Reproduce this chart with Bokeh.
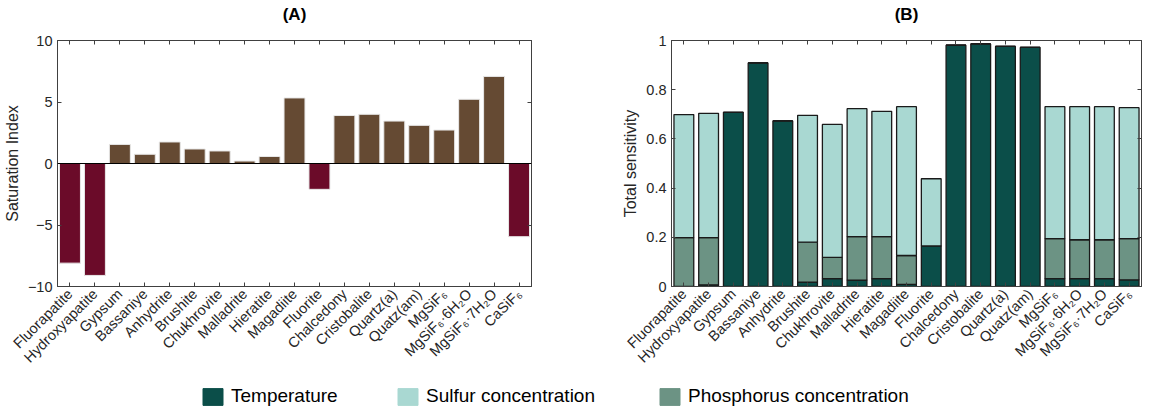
from math import pi
from bokeh.plotting import figure
from bokeh.models import (Range1d, LinearAxis, CategoricalAxis, Span, Legend, LegendItem,
                          CustomJSTickFormatter, FixedTicker, ColumnDataSource, CustomLabelingPolicy)
from bokeh.layouts import row, column
from bokeh.embed import file_html
from bokeh.resources import INLINE

# ---------------- data ----------------
minerals = ["Fluorapatite", "Hydroxyapatite", "Gypsum", "Bassaniye", "Anhydrite", "Brushite",
            "Chukhrovite", "Malladrite", "Hieratite", "Magadiite", "Fluorite", "Chalcedony",
            "Cristobalite", "Quartz(a)", "Quatz(am)", "MgSiF₆", "MgSiF₆·6H₂O", "MgSiF₆·7H₂O", "CaSiF₆"]
saturation_index = [-8.1, -9.1, 1.55, 0.75, 1.75, 1.18, 1.02, 0.2, 0.57, 5.33, -2.1,
                    3.9, 4.0, 3.45, 3.1, 2.72, 5.22, 7.08, -5.95]
# sensitivity contributions (stacked bottom -> top: temperature, phosphorus, sulfur)
temperature = [0.0, 0.007, 0.708, 0.909, 0.673, 0.018, 0.032, 0.026, 0.032, 0.009, 0.165,
               0.981, 0.986, 0.976, 0.972, 0.032, 0.032, 0.032, 0.027]
phosphorus = [0.199, 0.192, 0.0, 0.0, 0.0, 0.162, 0.086, 0.177, 0.171, 0.117, 0.0,
              0.0, 0.0, 0.0, 0.0, 0.163, 0.158, 0.158, 0.168]
sulfur = [0.500, 0.505, 0.0, 0.0, 0.0, 0.516, 0.541, 0.520, 0.509, 0.605, 0.273,
          0.0, 0.0, 0.0, 0.0, 0.536, 0.541, 0.541, 0.532]
si_ticks = [-10, -5, 0, 5, 10]
sens_ticks = [0, 0.2, 0.4, 0.6, 0.8, 1]
series_names = ["Temperature", "Sulfur concentration", "Phosphorus concentration"]

# ---------------- style ----------------
FONT = "Liberation Sans"
AX = "#404040"
TXT = "#262626"
C_POS, C_NEG = "#654a33", "#6b0b29"
C_T, C_S, C_P = "#0b4e49", "#a9d8d2", "#6c9384"

NO_LABELS = CustomLabelingPolicy(code="""
    const ids = [...indices]
    for (const i of ids) indices.unset(i)
    return indices
""")


def style(p, ticks):
    p.grid.visible = False
    p.outline_line_color = AX
    p.title.align = "center"
    p.title.text_font = FONT
    p.title.text_font_size = "17px"
    p.title.text_font_style = "bold"
    p.title.text_color = "black"
    p.title.standoff = 4
    for ax in p.xaxis + p.yaxis:
        ax.axis_line_color = AX
        ax.major_tick_line_color = AX
        ax.major_tick_in = 4
        ax.major_tick_out = 0
        ax.minor_tick_line_color = None
        ax.major_label_text_font = FONT
        ax.major_label_text_font_size = "14.5px"
        ax.major_label_text_color = TXT
        ax.axis_label_text_font = FONT
        ax.axis_label_text_font_size = "16px"
        ax.axis_label_text_font_style = "normal"
        ax.axis_label_text_color = TXT
        ax.major_label_standoff = 5
        ax.axis_label_standoff = 4
    p.xaxis.major_label_orientation = pi / 4
    top = CategoricalAxis(major_label_policy=NO_LABELS, major_tick_in=4, major_tick_out=0,
                          axis_line_color=AX, major_tick_line_color=AX, major_label_standoff=0)
    p.add_layout(top, "above")
    right = LinearAxis(ticker=FixedTicker(ticks=ticks), major_label_policy=NO_LABELS,
                       major_tick_in=4, major_tick_out=0, minor_tick_line_color=None,
                       axis_line_color=AX, major_tick_line_color=AX, major_label_standoff=0)
    p.add_layout(right, "right")
    p.yaxis[0].ticker = FixedTicker(ticks=ticks)


# ---------------- panel A ----------------
srcA = ColumnDataSource(dict(mineral=minerals, si=saturation_index,
                             color=[C_NEG if v < 0 else C_POS for v in saturation_index]))
pA = figure(x_range=minerals, y_range=Range1d(-10, 10), frame_width=474, frame_height=246,
            title="(A)", toolbar_location=None, output_backend="svg",
            min_border_left=51, min_border_right=70, min_border_top=30, min_border_bottom=86)
pA.vbar(x="mineral", top="si", bottom=0, width=0.84, fill_color="color",
        line_color="#e8e8e8", line_width=1, source=srcA)
pA.add_layout(Span(location=0, dimension="width", line_color="black", line_width=1))
style(pA, si_ticks)
pA.yaxis[0].axis_label = "Saturation Index"

# ---------------- panel B ----------------
srcB = ColumnDataSource(dict(mineral=minerals, temperature=temperature,
                             phosphorus=phosphorus, sulfur=sulfur))
pB = figure(x_range=minerals, y_range=Range1d(0, 1), frame_width=470, frame_height=246,
            title="(B)", toolbar_location=None, output_backend="svg",
            min_border_left=70, min_border_right=2, min_border_top=30, min_border_bottom=86)
pB.vbar_stack(["temperature", "phosphorus", "sulfur"], x="mineral", width=0.8,
              fill_color=[C_T, C_P, C_S], line_color="#1a1a1a", line_width=1.3, source=srcB)
style(pB, sens_ticks)
pB.yaxis[0].axis_label = "Total sensitivity"
pB.yaxis[0].formatter = CustomJSTickFormatter(code="return String(Number(tick.toFixed(2)))")

# ---------------- legend strip ----------------
leg = figure(width=1136, height=34, toolbar_location=None, output_backend="svg",
             x_range=Range1d(0, 1), y_range=Range1d(0, 1), min_border=0,
             x_axis_location=None, y_axis_location=None)
leg.grid.visible = False
leg.outline_line_color = None
for name, col, xpos in zip(series_names, [C_T, C_S, C_P], [200, 395, 657]):
    r = leg.vbar(x=[float("nan")], top=[float("nan")], width=0.1, fill_color=col, line_color=col)
    lg = Legend(items=[LegendItem(label=name, renderers=[r])], location=(xpos, 1),
                orientation="horizontal", glyph_width=25, glyph_height=21,
                label_text_font=FONT, label_text_font_size="19px", label_text_color="black",
                label_standoff=6, padding=0, margin=0, border_line_color=None,
                background_fill_alpha=0)
    leg.add_layout(lg)

layout = column(row(pA, pB), leg)
open("out.html", "w").write(file_html(layout, INLINE))
